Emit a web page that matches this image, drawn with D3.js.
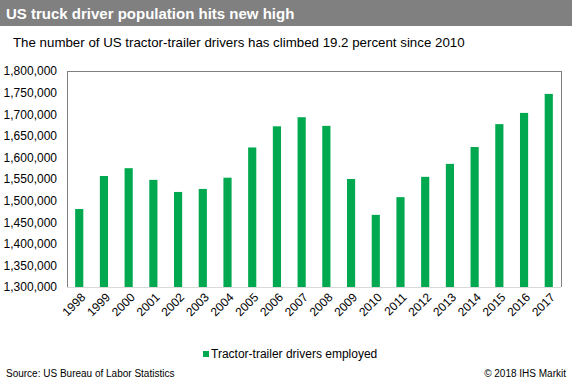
<!DOCTYPE html>
<html>
<head>
<meta charset="utf-8">
<script src="https://cdn.jsdelivr.net/npm/d3@7/dist/d3.min.js"></script>
<style>
  body { margin: 0; background: #fff; }
  text { font-family: Arial, "Liberation Sans", sans-serif; }
</style>
</head>
<body>
<div id="chart"></div>
<script>
var years = ["1998", "1999", "2000", "2001", "2002", "2003", "2004", "2005", "2006", "2007",
             "2008", "2009", "2010", "2011", "2012", "2013", "2014", "2015", "2016", "2017"];
var drivers = [1480500, 1557000, 1575000, 1548000, 1520000, 1527000, 1553000, 1623000, 1672000, 1693000,
               1673000, 1550000, 1467000, 1508000, 1555000, 1585000, 1624000, 1677000, 1703000, 1747000];
var yTicks = [1300000, 1350000, 1400000, 1450000, 1500000, 1550000, 1600000, 1650000, 1700000, 1750000, 1800000];

var W = 572, H = 386;
var margin = {top: 71, left: 67, right: 11, bottom: 99},
    width = W - margin.left - margin.right,
    height = H - margin.top - margin.bottom;

var svg = d3.select("#chart")
            .append("svg")
            .attr("width", W)
            .attr("height", H);

// header band
svg.append("rect")
   .attr("x", 0).attr("y", 0)
   .attr("width", W).attr("height", 26)
   .attr("fill", "#808080");

svg.append("text")
   .attr("x", 6).attr("y", 19)
   .attr("fill", "#fff")
   .attr("font-size", "15px")
   .attr("font-weight", "bold")
   .text("US truck driver population hits new high");

svg.append("text")
   .attr("x", 13).attr("y", 47)
   .attr("fill", "#000")
   .attr("font-size", "13.3px")
   .text("The number of US tractor-trailer drivers has climbed 19.2 percent since 2010");

var g = svg.append("g")
           .attr("transform", "translate(" + margin.left + "," + margin.top + ")");

var x = d3.scaleBand()
          .domain(years)
          .range([0, width])
          .paddingInner(0.67)
          .paddingOuter(0.33);

var y = d3.scaleLinear()
          .domain([1300000, 1800000])
          .range([height, 0]);

// plot frame
g.append("path")
 .attr("d", "M0," + height + "V0H" + width + "V" + height)
 .attr("fill", "none")
 .attr("stroke", "#808080")
 .attr("stroke-width", 1)
 .attr("shape-rendering", "crispEdges");

g.append("line")
 .attr("x1", 0).attr("x2", width)
 .attr("y1", height).attr("y2", height)
 .attr("stroke", "#d9d9d9")
 .attr("shape-rendering", "crispEdges");

g.selectAll("rect.bar")
 .data(drivers)
 .enter()
 .append("rect")
   .attr("class", "bar")
   .attr("x", function(d, i) { return x(years[i]); })
   .attr("y", function(d) { return y(d); })
   .attr("width", x.bandwidth())
   .attr("height", function(d) { return height - y(d); })
   .attr("fill", "#00a84f");

// y axis labels
var yAxis = g.append("g")
             .call(d3.axisLeft(y).tickValues(yTicks).tickSize(0).tickPadding(10).tickFormat(d3.format(",")));
yAxis.select(".domain").remove();
yAxis.selectAll("text")
     .attr("font-size", "12px")
     .attr("fill", "#000")
     .style("font-family", "Arial, 'Liberation Sans', sans-serif");

// x axis labels
var xAxis = g.append("g")
             .attr("transform", "translate(0," + height + ")")
             .call(d3.axisBottom(x).tickSize(0).tickPadding(0));
xAxis.select(".domain").remove();
xAxis.selectAll("text")
     .attr("font-size", "12px")
     .attr("fill", "#000")
     .style("font-family", "Arial, 'Liberation Sans', sans-serif")
     .attr("text-anchor", "end")
     .attr("dy", null)
     .attr("y", 0)
     .attr("transform", "translate(7,11) rotate(-45)");

// legend
var legend = svg.append("g").attr("transform", "translate(203,351)");
legend.append("rect")
      .attr("width", 6).attr("height", 6)
      .attr("fill", "#00a84f");
legend.append("text")
      .attr("x", 8).attr("y", 6.5)
      .attr("font-size", "12px")
      .attr("fill", "#000")
      .text("Tractor-trailer drivers employed");

svg.append("text")
   .attr("x", 6).attr("y", 377)
   .attr("font-size", "10px")
   .attr("fill", "#000")
   .text("Source: US Bureau of Labor Statistics");

svg.append("text")
   .attr("x", 566).attr("y", 377)
   .attr("text-anchor", "end")
   .attr("font-size", "10px")
   .attr("fill", "#000")
   .text("\u00a9 2018 IHS Markit");
</script>
</body>
</html>
